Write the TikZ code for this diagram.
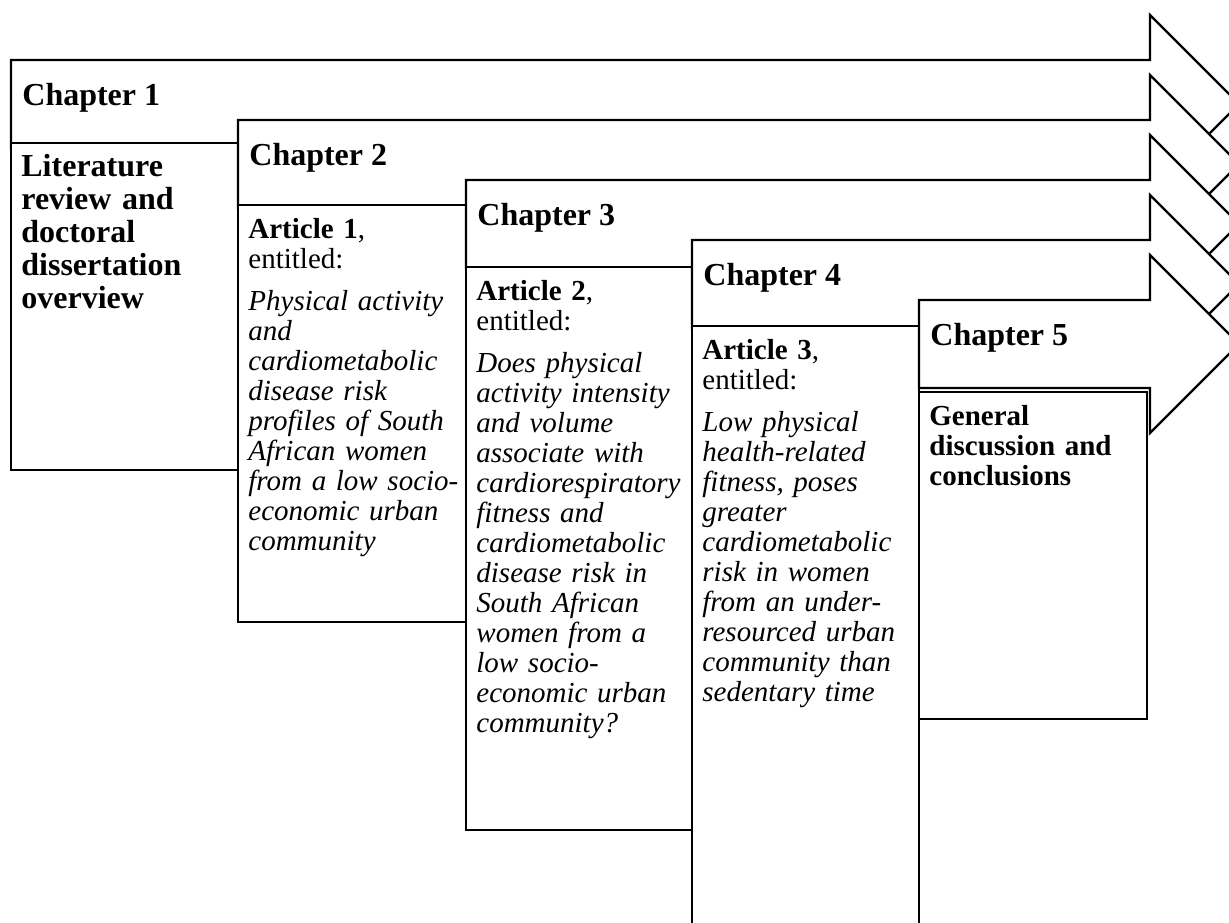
\documentclass[tikz,border=0pt]{standalone}
\usepackage{fontspec}
\setmainfont{Liberation Serif}
\begin{document}
\begin{tikzpicture}[
  x=0.5pt,
  y=-0.5pt,
  outline/.style={draw, line width=1.2pt, fill=white, line join=miter},
  chapter title/.style={
    anchor=base west,
    inner sep=0pt,
    font=\fontsize{16}{17}\selectfont\bfseries
  },
  box text/.style={
    anchor=base west,
    inner sep=0pt,
    align=left,
    text width=108pt,
    font=\fontsize{14.5}{15}\selectfont
  }
]
  \useasboundingbox (0,0) rectangle (1229,922);
  \clip (0,0) rectangle (1229,922);
  \foreach [count=\chap from 1] \leftX/\rightX/\boxTop/\boxBottom in
      {11/238/143/470, 238/466/205/622, 466/692/267/830,
       692/919/326/940, 919/1147/392/719} {
    \pgfmathsetmacro{\topY}{60*\chap}
    \draw[outline] (\leftX,\topY) -- (1150,\topY) -- (1150,\topY-45)
      -- (1239,\topY+44) -- (1150,\topY+133) -- (1150,\topY+88)
      -- (\leftX,\topY+88) -- cycle;
    \draw[outline] (\leftX,\boxTop) rectangle (\rightX,\boxBottom);
    \node[chapter title] (chapter\chap) at (\leftX+11,\topY+45) {Chapter \chap};
    \coordinate (box\chap) at (\leftX+10,\boxTop+33);
  }
  \node[box text, font=\fontsize{16}{16.5}\selectfont\bfseries] (overview)
    at (box1) {Literature\\review and\\doctoral\\dissertation\\overview};
  \node[box text] (article1) at (box2) {\textbf{Article 1},\\entitled:\\[6pt]
    \itshape Physical activity\\and\\cardiometabolic\\disease risk\\
    profiles of South\\African women\\from a low socio-\\economic urban\\
    community};
  \node[box text] (article2) at (box3) {\textbf{Article 2},\\entitled:\\[6pt]
    \itshape Does physical\\activity intensity\\and volume\\associate with\\
    cardiorespiratory\\fitness and\\cardiometabolic\\disease risk in\\
    South African\\women from a\\low socio-\\economic urban\\community?};
  \node[box text] (article3) at (box4) {\textbf{Article 3},\\entitled:\\[6pt]
    \itshape Low physical\\health-related\\fitness, poses\\greater\\
    cardiometabolic\\risk in women\\from an under-\\resourced urban\\
    community than\\sedentary time};
  \node[box text, font=\fontsize{14.5}{15}\selectfont\bfseries] (conclusions)
    at (box5) {General\\discussion and\\conclusions};
\end{tikzpicture}
\end{document}
